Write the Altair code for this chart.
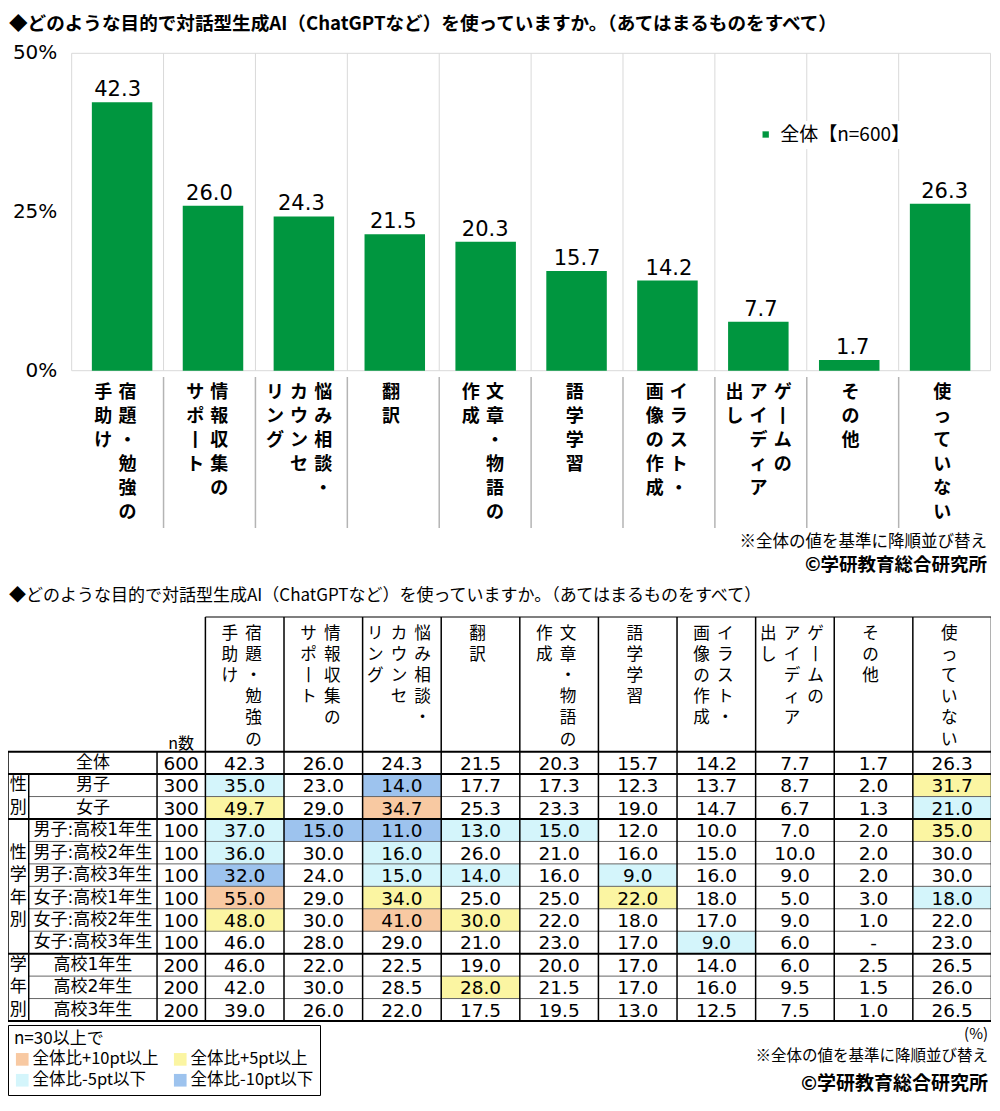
import altair as alt
import pandas as pd

# ---------------- data ----------------
title_chart = "◆どのような目的で対話型生成AI（ChatGPTなど）を使っていますか。（あてはまるものをすべて）"
title_table = "◆どのような目的で対話型生成AI（ChatGPTなど）を使っていますか。（あてはまるものをすべて）"

categories = ["宿題・勉強の手助け", "情報収集のサポート", "悩み相談・カウンセリング", "翻訳",
              "文章・物語の作成", "語学学習", "イラスト・画像の作成", "ゲームのアイディア出し",
              "その他", "使っていない"]
# vertical (tategaki) label columns, read right to left
category_columns = [["宿題・勉強の", "手助け"], ["情報収集の", "サポート"],
                    ["悩み相談・", "カウンセ", "リング"], ["翻訳"], ["文章・物語の", "作成"],
                    ["語学学習"], ["イラスト・", "画像の作成"], ["ゲームの", "アイディア", "出し"],
                    ["その他"], ["使っていない"]]
overall = [42.3, 26.0, 24.3, 21.5, 20.3, 15.7, 14.2, 7.7, 1.7, 26.3]
series_name = "全体【n=600】"
y_tick_values = [0, 25, 50]
y_tick_labels = ["0%", "25%", "50%"]

note_sort = "※全体の値を基準に降順並び替え"
note_credit = "©学研教育総合研究所"
note_unit = "(%)"

row_labels = ["全体", "男子", "女子", "男子:高校1年生", "男子:高校2年生", "男子:高校3年生",
              "女子:高校1年生", "女子:高校2年生", "女子:高校3年生", "高校1年生", "高校2年生", "高校3年生"]
row_n = [600, 300, 300, 100, 100, 100, 100, 100, 100, 200, 200, 200]
row_values = [
    overall,
    [35.0, 23.0, 14.0, 17.7, 17.3, 12.3, 13.7, 8.7, 2.0, 31.7],
    [49.7, 29.0, 34.7, 25.3, 23.3, 19.0, 14.7, 6.7, 1.3, 21.0],
    [37.0, 15.0, 11.0, 13.0, 15.0, 12.0, 10.0, 7.0, 2.0, 35.0],
    [36.0, 30.0, 16.0, 26.0, 21.0, 16.0, 15.0, 10.0, 2.0, 30.0],
    [32.0, 24.0, 15.0, 14.0, 16.0, 9.0, 16.0, 9.0, 2.0, 30.0],
    [55.0, 29.0, 34.0, 25.0, 25.0, 22.0, 18.0, 5.0, 3.0, 18.0],
    [48.0, 30.0, 41.0, 30.0, 22.0, 18.0, 17.0, 9.0, 1.0, 22.0],
    [46.0, 28.0, 29.0, 21.0, 23.0, 17.0, 9.0, 6.0, None, 23.0],
    [46.0, 22.0, 22.5, 19.0, 20.0, 17.0, 14.0, 6.0, 2.5, 26.5],
    [42.0, 30.0, 28.5, 28.0, 21.5, 17.0, 16.0, 9.5, 1.5, 26.0],
    [39.0, 26.0, 22.0, 17.5, 19.5, 13.0, 12.5, 7.5, 1.0, 26.5],
]
group_labels = ["性別", "性学年別", "学年別"]
group_sizes = [2, 6, 3]
n_header = "n数"
legend_title = "n=30以上で"
legend_classes = ["全体比+10pt以上", "全体比+5pt以上", "全体比-5pt以下", "全体比-10pt以下"]
legend_colors = ["#F8C9A2", "#FBF5A2", "#D4F5FB", "#9DC3EE"]

GREEN = "#00963F"
JP = "Noto Sans CJK JP"
NUM = "DejaVu Sans, Noto Sans CJK JP"

# ---------------- layout ----------------
W, H = 983, 1090


def X(xr):
    return (xr - 2) * 0.987


def Y(yr):
    return yr - 8 if yr < 585 else yr - 16


BX0, BX1 = X(66.5), X(997.5)
BY0, BY1 = Y(370.7), Y(53.3)
BAND = (BX1 - BX0) / len(categories)

xs_bar = alt.Scale(domain=[0, len(categories)], range=[BX0, BX1], nice=False, zero=False)
ys_bar = alt.Scale(domain=[0, 50], range=[BY0, BY1], nice=False, zero=False)

# table columns (in reference pixel units)
col_widths = [21, 130, 49] + [79.64] * len(categories)
edges = [2.0]
for w in col_widths:
    edges.append(edges[-1] + w)
n_rows = len(row_labels)
xs_tab = alt.Scale(domain=[edges[0], edges[-1]], range=[X(edges[0]), X(edges[-1])], nice=False, zero=False)
ys_tab = alt.Scale(domain=[-6, n_rows], range=[Y(625), Y(1029)], nice=False, zero=False)


def vert(s):
    return "\n".join(s.replace("ー", "丨"))


# ---------------- bar chart ----------------
df_bar = pd.DataFrame({"pos": [i + 0.5 for i in range(len(categories))],
                       "value": overall, "cat": categories, "series": series_name})

grid_in = alt.Chart(pd.DataFrame({"b": list(range(len(categories) + 1))})).mark_rule(
    color="#d9d9d9", strokeWidth=1).encode(
    x=alt.X("b:Q", scale=xs_bar, axis=None), y=alt.value(BY1), y2=alt.value(BY0))
frame_h = alt.Chart(pd.DataFrame({"h": [0, 50]})).mark_rule(color="#d9d9d9", strokeWidth=1).encode(
    y=alt.Y("h:Q", scale=ys_bar, axis=None), x=alt.value(BX0), x2=alt.value(BX1))
sep_below = alt.Chart(pd.DataFrame({"b": list(range(1, len(categories)))})).mark_rule(
    color="#b4b4b4", strokeWidth=1.5).encode(
    x=alt.X("b:Q", scale=xs_bar, axis=None), y=alt.value(Y(377)), y2=alt.value(Y(528)))

bars = alt.Chart(df_bar).mark_bar(size=60.5, orient="vertical").encode(
    x=alt.X("pos:Q", scale=xs_bar, axis=None),
    y=alt.Y("value:Q", scale=ys_bar, axis=None, stack=None),
    color=alt.Color("series:N", scale=alt.Scale(domain=[series_name], range=[GREEN]),
                    legend=alt.Legend(orient="none", legendX=X(756), legendY=Y(121), title=None,
                                      symbolType="square", symbolSize=40, symbolStrokeWidth=0,
                                      labelFont=JP, labelFontSize=19, labelColor="#000",
                                      labelOffset=5, padding=4, fillColor="white")))
bar_text = alt.Chart(df_bar).mark_text(dy=-12, font=NUM, fontSize=21, color="#000").encode(
    x=alt.X("pos:Q", scale=xs_bar, axis=None),
    y=alt.Y("value:Q", scale=ys_bar, axis=None),
    text=alt.Text("value:Q", format=".1f"))

lab_rows = []
for i, cols in enumerate(category_columns):
    nc = len(cols)
    for k, c in enumerate(cols):
        off = (((nc - 1) / 2 - k) * 24.4 - 2.3) * 0.987
        lab_rows.append({"pos": i + 0.5 + off / BAND, "txt": vert(c)})
cat_labels = alt.Chart(pd.DataFrame(lab_rows)).mark_text(
    lineBreak="\n", lineHeight=24, baseline="alphabetic", align="center",
    font=JP, fontSize=18, fontWeight="bold", color="#000").encode(
    x=alt.X("pos:Q", scale=xs_bar, axis=None), y=alt.value(Y(390.7) + 0.38 * 18), text="txt:N")

y_labels = alt.Chart(pd.DataFrame({"v": y_tick_values, "lab": y_tick_labels})).mark_text(
    align="right", baseline="middle", font=NUM, fontSize=20, color="#000").encode(
    x=alt.value(X(52)), y=alt.Y("v:Q", scale=ys_bar, axis=None), text="lab:N")


def note(txt, x, y, size, weight="normal", align="left"):
    return alt.Chart(pd.DataFrame({"t": [txt]})).mark_text(
        align=align, baseline="middle", font=JP, fontSize=size, fontWeight=weight, color="#000").encode(
        x=alt.value(x), y=alt.value(y), text="t:N")


t_top = note(title_chart, X(3), 16, 18.6, "bold")
n_sort1 = note(note_sort, X(994), Y(542), 16.5, align="right")
n_credit1 = note(note_credit, X(994), Y(564.5), 18.5, "bold", align="right")

# ---------------- table ----------------
def classify(v, base):
    if v is None:
        return None
    d = round(v - base, 1)
    if d >= 10:
        return legend_classes[0]
    if d >= 5:
        return legend_classes[1]
    if d <= -10:
        return legend_classes[3]
    if d <= -5:
        return legend_classes[2]
    return None


cells = []
for r, vals in enumerate(row_values):
    for j, v in enumerate(vals):
        cells.append({"x0": edges[3 + j], "x1": edges[4 + j], "xc": (edges[3 + j] + edges[4 + j]) / 2,
                      "r0": r, "r1": r + 1, "rc": r + 0.5,
                      "txt": "-" if v is None else f"{v:.1f}",
                      "cls": classify(v, overall[j]) if r > 0 and row_n[r] >= 30 else None})
df_cells = pd.DataFrame(cells)

# legend lays entries out column by column: order so rows read (+10, +5) / (-5, -10)
leg_order = [legend_classes[0], legend_classes[2], legend_classes[1], legend_classes[3]]
leg_colors = [legend_colors[legend_classes.index(c)] for c in leg_order]

cell_fill = alt.Chart(df_cells[df_cells["cls"].notna()]).mark_rect().encode(
    x=alt.X("x0:Q", scale=xs_tab, axis=None), x2="x1:Q",
    y=alt.Y("r0:Q", scale=ys_tab, axis=None), y2="r1:Q",
    color=alt.Color("cls:N", scale=alt.Scale(domain=leg_order, range=leg_colors),
                    legend=alt.Legend(orient="none", legendX=X(2), legendY=Y(1033), title=legend_title,
                                      titleFont=JP, titleFontSize=17, titleFontWeight="normal",
                                      titleColor="#000", titleAnchor="start", titlePadding=3,
                                      labelFont=JP, labelFontSize=16.5, labelColor="#000", labelOffset=2,
                                      symbolType="square", symbolSize=160, symbolStrokeWidth=0,
                                      columns=2, columnPadding=13, rowPadding=4, padding=6,
                                      strokeColor="#000", fillColor="white")))
cell_text = alt.Chart(df_cells).mark_text(baseline="middle", dy=1, font=NUM, fontSize=18.5, color="#000").encode(
    x=alt.X("xc:Q", scale=xs_tab, axis=None), y=alt.Y("rc:Q", scale=ys_tab, axis=None), text="txt:N")

df_rows = pd.DataFrame({"lab": row_labels, "n": [str(n) for n in row_n],
                        "rc": [r + 0.5 for r in range(n_rows)]})
row_text = alt.Chart(df_rows).mark_text(baseline="middle", font=NUM, fontSize=17, color="#000").encode(
    x=alt.X("xc:Q", scale=xs_tab, axis=None), y=alt.Y("rc:Q", scale=ys_tab, axis=None), text="lab:N"
).transform_calculate(xc=str((edges[1] + edges[2]) / 2))
n_text = alt.Chart(df_rows).mark_text(baseline="middle", dy=1, font=NUM, fontSize=18.5, color="#000").encode(
    x=alt.X("xc:Q", scale=xs_tab, axis=None), y=alt.Y("rc:Q", scale=ys_tab, axis=None), text="n:N"
).transform_calculate(xc=str((edges[2] + edges[3]) / 2))

grp = []
start = 1
for g, size in zip(group_labels, group_sizes):
    off = (size - len(g)) / 2
    for k, ch in enumerate(g):
        grp.append({"ch": ch, "rc": start + off + k + 0.5})
    start += size
group_text = alt.Chart(pd.DataFrame(grp)).mark_text(baseline="middle", font=JP, fontSize=17, color="#000").encode(
    x=alt.X("xc:Q", scale=xs_tab, axis=None), y=alt.Y("rc:Q", scale=ys_tab, axis=None), text="ch:N"
).transform_calculate(xc=str((edges[0] + edges[1]) / 2))

hdr = []
for j, cols in enumerate(category_columns):
    nc = len(cols)
    cx = (edges[3 + j] + edges[4 + j]) / 2
    for k, c in enumerate(cols):
        hdr.append({"x": cx - 3 + ((nc - 1) / 2 - k) * 24, "txt": vert(c)})
header_text = alt.Chart(pd.DataFrame(hdr)).mark_text(
    lineBreak="\n", lineHeight=21.1, baseline="alphabetic", align="center",
    font=JP, fontSize=16.6, color="#000").encode(
    x=alt.X("x:Q", scale=xs_tab, axis=None), y=alt.value(Y(640.7) + 0.38 * 16.6), text="txt:N")
nhead = alt.Chart(pd.DataFrame({"t": [n_header], "x": [(edges[2] + edges[3]) / 2]})).mark_text(
    baseline="middle", font=JP, fontSize=16, color="#000").encode(
    x=alt.X("x:Q", scale=xs_tab, axis=None), y=alt.value(Y(751.7)), text="t:N")

# table rules
bounds = [0]
for s in [1] + group_sizes:
    bounds.append(bounds[-1] + s)
thick_h = pd.DataFrame({"y": bounds, "x0": edges[0], "x1": edges[-1]})
thin_h = pd.DataFrame({"y": [r for r in range(1, n_rows) if r not in bounds], "x0": edges[1], "x1": edges[-1]})
hdr_top = pd.DataFrame({"y": [-6], "x0": [edges[3]], "x1": [edges[-1]]})
vlines = pd.DataFrame(
    [{"x": edges[0], "y0": 0, "y1": n_rows}, {"x": edges[1], "y0": 1, "y1": n_rows},
     {"x": edges[2], "y0": 0, "y1": n_rows}] +
    [{"x": e, "y0": -6, "y1": n_rows} for e in edges[3:]])


def hrule(df, color, width):
    return alt.Chart(df).mark_rule(color=color, strokeWidth=width).encode(
        x=alt.X("x0:Q", scale=xs_tab, axis=None), x2="x1:Q", y=alt.Y("y:Q", scale=ys_tab, axis=None))


r_thin = hrule(thin_h, "#666666", 1)
r_thick = hrule(thick_h, "#000000", 2)
r_top = hrule(hdr_top, "#000000", 1.2)
r_v = alt.Chart(vlines).mark_rule(color="#000", strokeWidth=1.5).encode(
    x=alt.X("x:Q", scale=xs_tab, axis=None), y=alt.Y("y0:Q", scale=ys_tab, axis=None), y2="y1:Q")

t_table = note(title_table, X(3), Y(604), 17)
n_unit = note(note_unit, X(995), Y(1042), 15, align="right")
n_sort2 = note(note_sort, X(995), Y(1064), 15.5, align="right")
n_credit2 = note(note_credit, X(995), Y(1092), 19, "bold", align="right")

chart = alt.layer(
    grid_in, frame_h, sep_below, bars, bar_text, cat_labels, y_labels,
    t_top, n_sort1, n_credit1,
    cell_fill, r_thin, r_thick, r_top, r_v, cell_text, row_text, n_text, group_text,
    header_text, nhead, t_table, n_unit, n_sort2, n_credit2,
).resolve_scale(x="independent", y="independent", color="independent").properties(
    width=W, height=H, padding=0, autosize=alt.AutoSizeParams(type="none"), background="white"
).configure_view(stroke=None)

chart.save("out.html", embed_options={"renderer": "svg", "actions": False})
